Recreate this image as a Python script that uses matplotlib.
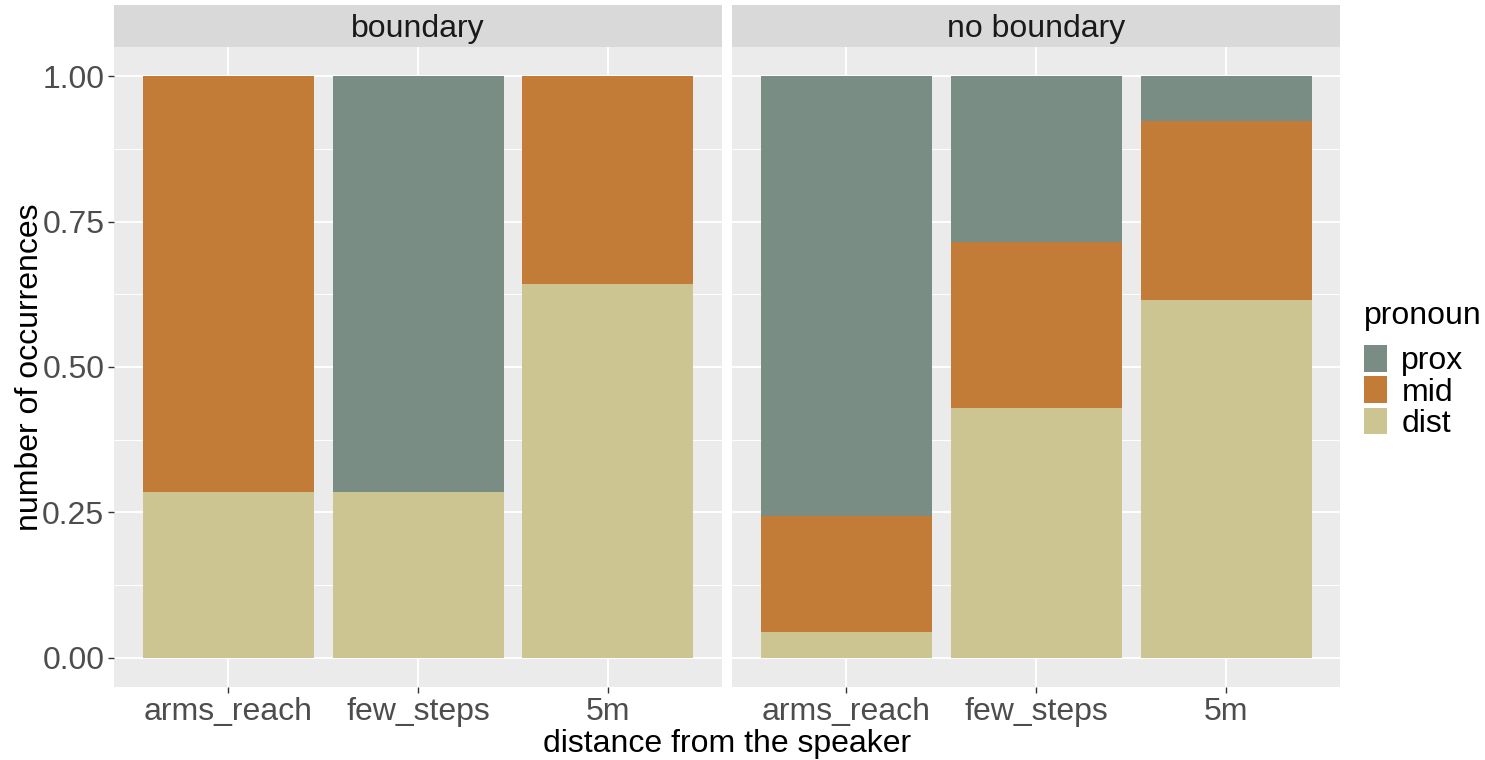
import numpy as np
import matplotlib
matplotlib.use("Agg")
import matplotlib.pyplot as plt
from matplotlib.patches import Patch

plt.rcParams['font.family'] = ['Liberation Sans', 'DejaVu Sans']

# data (proportions, stacked dist -> mid -> prox)
categories = ['arms_reach', 'few_steps', '5m']
panels = ['boundary', 'no boundary']
prox = {'boundary': [0.0, 0.714, 0.0], 'no boundary': [0.756, 0.286, 0.077]}
mid = {'boundary': [0.714, 0.0, 0.357], 'no boundary': [0.200, 0.285, 0.308]}
dist = {'boundary': [0.286, 0.286, 0.643], 'no boundary': [0.044, 0.429, 0.615]}

pronouns = ['prox', 'mid', 'dist']
colors = {'prox': '#7A8D85', 'mid': '#C27C38', 'dist': '#CCC591'}

W, H = 1485, 760
fig = plt.figure(figsize=(W / 100, H / 100), dpi=100)

fs = 23
panel_x = [114, 732]
panel_w = 608
top, bottom = 47, 687
strip_top = 5

x = np.arange(1, len(categories) + 1)
for i, (px, name) in enumerate(zip(panel_x, panels)):
    ax = fig.add_axes([px / W, (H - bottom) / H, panel_w / W, (bottom - top) / H])
    ax.set_facecolor('#EBEBEB')
    d = np.array(dist[name])
    m = np.array(mid[name])
    p = np.array(prox[name])
    ax.bar(x, d, width=0.9, color=colors['dist'], zorder=3)
    ax.bar(x, m, width=0.9, bottom=d, color=colors['mid'], zorder=3)
    ax.bar(x, p, width=0.9, bottom=d + m, color=colors['prox'], zorder=3)
    ax.set_xlim(0.4, 3.6)
    ax.set_ylim(-0.05, 1.05)
    ax.set_xticks(x)
    ax.set_xticklabels(categories)
    ax.set_yticks([0, 0.25, 0.5, 0.75, 1.0])
    ax.set_yticks([0.125, 0.375, 0.625, 0.875], minor=True)
    ax.grid(True, which='major', color='white', linewidth=1.4, zorder=0)
    ax.grid(True, which='minor', axis='y', color='white', linewidth=0.7, zorder=0)
    for s in ax.spines.values():
        s.set_visible(False)
    ax.tick_params(axis='both', which='major', length=4, width=1, color='#333333',
                   labelsize=fs, labelcolor='#4D4D4D', pad=3)
    ax.tick_params(axis='both', which='minor', length=0)
    if i == 0:
        ax.set_yticklabels(['0.00', '0.25', '0.50', '0.75', '1.00'])
    else:
        ax.tick_params(axis='y', which='major', length=0, labelleft=False)

    # facet strip
    sax = fig.add_axes([px / W, (H - top) / H, panel_w / W, (top - strip_top) / H])
    sax.set_facecolor('#D9D9D9')
    sax.set_xticks([])
    sax.set_yticks([])
    for s in sax.spines.values():
        s.set_visible(False)
    sax.text(0.5, 0.42, name, ha='center', va='center', fontsize=fs, color='#1A1A1A',
             transform=sax.transAxes)

fig.text((114 + 1340) / 2 / W, 1 - 744 / H, 'distance from the speaker',
         ha='center', va='center', fontsize=fs)
fig.text(30 / W, 1 - 367 / H, 'number of occurrences', ha='center', va='center',
         rotation=90, fontsize=fs)

# legend: title placed separately to match ggplot spacing
fig.text(1364 / W, 1 - 316 / H, 'pronoun', ha='left', va='center', fontsize=fs)
handles = [Patch(facecolor=colors[k], edgecolor='none') for k in pronouns]
leg = fig.legend(handles, pronouns, loc='upper left',
                 bbox_to_anchor=(1364 / W, 1 - 345 / H), frameon=False,
                 fontsize=fs, handlelength=0.72, handleheight=0.9,
                 handletextpad=0.45, labelspacing=0.0,
                 borderpad=0, borderaxespad=0)

fig.savefig('out.png', dpi=100)
